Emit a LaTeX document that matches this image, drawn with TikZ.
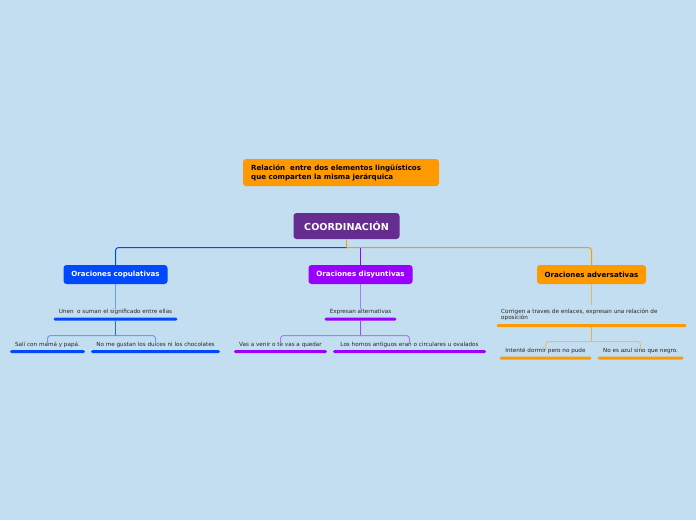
\documentclass[tikz,border=0pt]{standalone}
\usepackage{fontspec}
\setmainfont{DejaVu Sans}
\definecolor{bg}{RGB}{194,222,240}
\definecolor{cblue}{RGB}{0,72,255}
\definecolor{cpurple}{RGB}{153,0,255}
\definecolor{cdark}{RGB}{102,45,145}
\definecolor{corange}{RGB}{255,153,0}
\tikzset{
  mainbox/.style={draw=none, rounded corners=3pt, inner sep=0pt, font=\bfseries\fontsize{7.1}{8}\selectfont},
  smalltext/.style={inner sep=0pt, font=\fontsize{5.65}{6.5}\selectfont, text=black!85},
  bar/.style={fill=#1, rounded corners=1.5pt, inner sep=0pt, minimum height=3pt},
  conn/.style={line width=1pt, rounded corners=3pt},
}
\begin{document}
\begin{tikzpicture}[x=1pt,y=-1pt]
\fill[bg] (0,0) rectangle (696,520);
\useasboundingbox (0,0) rectangle (696,520);

% top box
\node[mainbox, fill=corange, minimum width=196pt, minimum height=27pt] (top) at (341,172.5) {};
\node[anchor=west, inner sep=0pt, align=left, font=\bfseries\fontsize{7.1}{9}\selectfont] (toptext) at (251,172.5) {Relación\ \ entre dos elementos lingüísticos\\que comparten la misma jerárquica};

% central
\node[mainbox, fill=cdark, text=white, minimum width=106pt, minimum height=26pt, font=\bfseries\fontsize{9.6}{10}\selectfont] (coord) at (346.5,226) {COORDINACIÓN};

% branches
\node[mainbox, fill=cblue, text=white, minimum width=104pt, minimum height=19pt] (cop) at (115.5,274.5) {Oraciones copulativas};
\node[mainbox, fill=cpurple, text=white, minimum width=104pt, minimum height=19pt] (dis) at (360.5,274.5) {Oraciones disyuntivas};
\node[mainbox, fill=corange, text=black, minimum width=109pt, minimum height=19pt] (adv) at (591.5,274.5) {Oraciones adversativas};

\coordinate (hub) at (346.5,247.5);
\coordinate (hubp) at (360.5,248);
\draw[conn, corange] (coord.south) -- (hub);
\draw[conn, cblue] (hub) -| (cop.north);
\draw[conn, corange] (hub) -| (adv.north);
\draw[conn, cpurple] (hubp) -- (dis.north);

% copulativas subtree
\node[smalltext] (t1) at (115.5,312) {Unen\ \ o suman el significado entre ellas};
\node[bar=cblue, minimum width=124pt] (b1) at (115.5,319) {};
\draw[conn, cblue!45!bg] (cop.south) -- (t1.north);
\node[smalltext] (c1) at (47.5,345) {Salí con mamá y papá.};
\node[bar=cblue, minimum width=75pt] (cb1) at (47.5,351.5) {};
\node[smalltext] (c2) at (155.5,345) {No me gustan los dulces ni los chocolates};
\node[bar=cblue, minimum width=129pt] (cb2) at (155.5,351.5) {};
\coordinate (j1) at (115.5,335.5);
\draw[conn, cblue!80!bg] (b1.south) -- (j1);
\draw[conn, cblue!45!bg] (j1) -| ([yshift=-1.5pt]c1.north);
\draw[conn, cblue!45!bg] (j1) -| ([yshift=-1.5pt]c2.north);

% disyuntivas subtree
\node[smalltext] (t2) at (360.5,312) {Expresan alternativas};
\node[bar=cpurple, minimum width=72pt] (b2) at (360.5,319) {};
\draw[conn, cpurple!45!bg] (dis.south) -- (t2.north);
\node[smalltext] (d1) at (280.5,345) {Vas a venir o te vas a quedar};
\node[bar=cpurple, minimum width=93pt] (db1) at (280.5,351.5) {};
\node[smalltext] (d2) at (409.5,345) {Los hornos antiguos eran o circulares u ovalados};
\node[bar=cpurple, minimum width=153pt] (db2) at (409.5,351.5) {};
\coordinate (j2) at (360.5,335.5);
\draw[conn, cpurple!70!bg] (b2.south) -- (j2);
\draw[conn, cpurple!45!bg] (j2) -| ([yshift=-1.5pt]d1.north);
\draw[conn, cpurple!45!bg] (j2) -| ([yshift=-1.5pt]d2.north);

% adversativas subtree
\node[smalltext, anchor=west, align=left, font=\fontsize{5.65}{6.3}\selectfont] (t3) at (501,315) {Corrigen a traves de enlaces, expresan una relación de\\oposición};
\node[bar=corange, minimum width=190pt] (b3) at (591.5,325.5) {};
\draw[conn, corange!55!bg] (adv.south) -- (591.5,305);
\node[smalltext] (a1) at (545.5,351) {Intenté dormir pero no pude};
\node[bar=corange, minimum width=92pt] (ab1) at (545.5,358) {};
\node[smalltext] (a2) at (640.5,351) {No es azul sino que negro.};
\node[bar=corange, minimum width=86pt] (ab2) at (640.5,358) {};
\coordinate (j3) at (591.5,341.5);
\draw[conn, corange!70!bg] (b3.south) -- (j3);
\draw[conn, corange!45!bg] (j3) -| ([yshift=-1.5pt]a1.north);
\draw[conn, corange!45!bg] (j3) -| ([yshift=-1.5pt]a2.north);
\end{tikzpicture}
\end{document}
